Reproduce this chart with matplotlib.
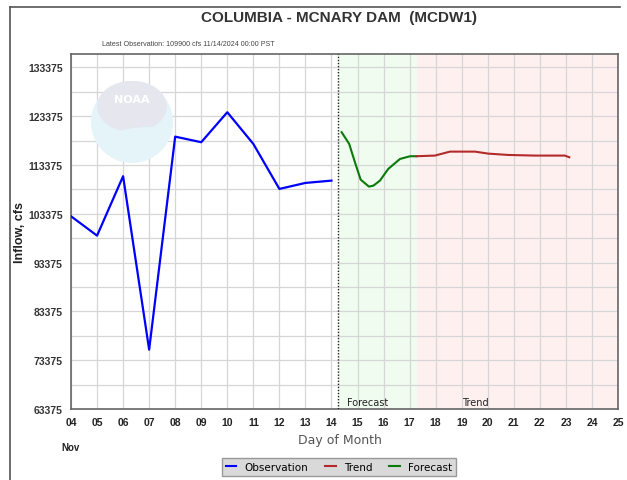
import matplotlib
matplotlib.use("Agg")
import matplotlib.pyplot as plt
from matplotlib.patches import Circle, Ellipse
from matplotlib.lines import Line2D
import numpy as np

# ---- data ----
obs_day = [4, 5, 6, 7, 8, 9, 10, 11, 12, 13, 14]
obs_val = [102860, 98890, 111060, 75530, 119170, 118030, 124170, 117680, 108460, 109690, 110160]

fc_day = [14.39, 14.68, 14.90, 15.12, 15.44, 15.61, 15.86, 16.18, 16.63, 17.02, 17.27]
fc_val = [120080, 117680, 113930, 110360, 108930, 109130, 110160, 112560, 114600, 115160, 115160]

tr_day = [17.27, 17.97, 18.55, 19.51, 20.02, 20.79, 21.81, 22.96, 23.13]
tr_val = [115160, 115290, 116100, 116100, 115690, 115420, 115290, 115290, 114950]

now_day = 14.25
fc_zone = (14.25, 17.27)
tr_zone = (17.27, 25)

x_ticks = list(range(4, 26))
x_labels = [f"{d:02d}" for d in x_ticks]
y_ticks = [63375, 73375, 83375, 93375, 103375, 113375, 123375, 133375]

W, H = 627, 481
fig = plt.figure(figsize=(W / 100, H / 100), dpi=100)
fig.patch.set_facecolor("white")

L, R, T, B = 71, 618, 55, 410
ax = fig.add_axes([L / W, (H - B) / H, (R - L) / W, (B - T) / H])
ax.set_xlim(4, 25)
ax.set_ylim(63375, 136100)

ax.axvspan(*fc_zone, color="#effcef", zorder=0, lw=0)
ax.axvspan(*tr_zone, color="#fff0f0", zorder=0, lw=0)

ax.set_xticks(x_ticks)
ax.set_xticklabels(x_labels)
ax.set_yticks(y_ticks)
ax.set_yticks(np.arange(68375, 136100, 10000), minor=True)
ax.grid(True, which="both", color="#d6d6d6", lw=0.9, zorder=1)
ax.set_axisbelow(True)
ax.tick_params(length=0, which="both")
ax.tick_params(axis="y", pad=6)
ax.tick_params(axis="x", pad=6)
for lab in ax.get_yticklabels():
    lab.set_fontfamily("Liberation Sans"); lab.set_fontweight("bold"); lab.set_fontsize(7.5); lab.set_color("#333333")
for lab in ax.get_xticklabels():
    lab.set_fontfamily("Liberation Sans"); lab.set_fontweight("bold"); lab.set_fontsize(7.5); lab.set_color("#222222")
for s in ax.spines.values():
    s.set_color("#666666"); s.set_linewidth(1.2)

# NOAA logo (faint)
lax = fig.add_axes([91 / W, (H - 164) / H, 82 / W, 82 / H])
lax.set_xlim(-1, 1); lax.set_ylim(-1, 1); lax.axis("off")
lax.add_patch(Circle((0, 0), 1.0, color="#e4f4f8", lw=0))
lax.add_patch(Ellipse((0, 0.38), 1.7, 1.25, color="#e6e6ef", lw=0))
lax.add_patch(Ellipse((0.05, -0.3), 1.5, 0.3, color="#e4f4f8", lw=0, angle=8))
lax.text(0.0, 0.55, "NOAA", color="white", fontsize=8, fontweight="bold", ha="center", va="center",
         family="DejaVu Sans")

ax.plot(obs_day, obs_val, color="#0000ff", lw=1.6, zorder=4)
ax.plot(fc_day, fc_val, color="#0a7a0a", lw=1.5, zorder=4)
ax.plot(tr_day, tr_val, color="#b22a2a", lw=1.5, zorder=4)
ax.axvline(now_day, color="#222222", lw=1.0, ls=(0, (1, 1.2)), zorder=3)

ax.text(14.6, 63700, "Forecast", fontsize=7, family="DejaVu Sans", color="#222222", va="bottom", ha="left")
ax.text(19.0, 63700, "Trend", fontsize=7, family="DejaVu Sans", color="#222222", va="bottom", ha="left")

ax.set_ylabel("Inflow, cfs", fontsize=9, fontweight="bold", family="Liberation Sans", color="#222222")
ax.yaxis.set_label_coords(-45 / (R - L), 0.5)

fig.text(339 / W, 1 - 18 / H, "COLUMBIA - MCNARY DAM  (MCDW1)", ha="center", va="center",
         fontsize=11, fontweight="bold", family="Liberation Sans", color="#333333")
fig.text(102 / W, 1 - 44 / H, "Latest Observation: 109900 cfs 11/14/2024 00:00 PST", ha="left", va="center",
         fontsize=5.1, family="Liberation Sans", color="#444444")
fig.text(340 / W, 1 - 441 / H, "Day of Month", ha="center", va="center",
         fontsize=9, family="DejaVu Sans", color="#555555")
fig.text(70 / W, 1 - 448 / H, "Nov", ha="center", va="center",
         fontsize=7, fontweight="bold", family="Liberation Sans", color="#222222")

# legend
handles = [Line2D([], [], color="#0000ff", lw=1.5), Line2D([], [], color="#b22a2a", lw=1.5),
           Line2D([], [], color="#0a7a0a", lw=1.5)]
leg = fig.legend(handles, ["Observation", "Trend", "Forecast"], loc="center",
                 bbox_to_anchor=(339 / W, 1 - 468 / H), ncol=3, frameon=True, fancybox=False,
                 prop={"family": "DejaVu Sans", "size": 7.5}, handlelength=1.0, handletextpad=0.8,
                 columnspacing=1.6, borderpad=0.4)
leg.get_frame().set_facecolor("#d9d9d9")
leg.get_frame().set_edgecolor("#999999")
leg.get_frame().set_alpha(1)

# outer frame lines
fig.add_artist(Line2D([10 / W, 10 / W], [0, 1 - 8 / H], transform=fig.transFigure, color="#555555", lw=1.2))
fig.add_artist(Line2D([10 / W, 620 / W], [1 - 8 / H, 1 - 8 / H], transform=fig.transFigure, color="#555555", lw=1.2))

fig.savefig("out.png", dpi=100)
